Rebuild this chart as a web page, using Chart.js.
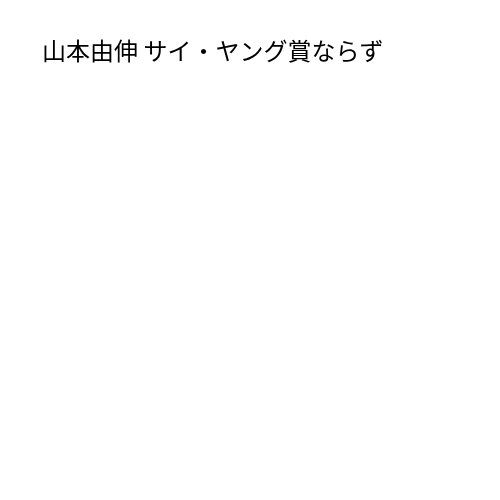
<!DOCTYPE html>
<html>
<head>
<meta charset="utf-8">
<script src="https://cdn.jsdelivr.net/npm/chart.js@4"></script>
<style>
html,body{margin:0;padding:0;background:#fff;}
#wrap{width:500px;height:500px;}
</style>
</head>
<body>
<div id="wrap"><canvas id="c" width="500" height="500"></canvas></div>
<script>
const titleText = "山本由伸 サイ・ヤング賞ならず";
const categories = [];
const values = [];

new Chart(document.getElementById('c'), {
  type: 'bar',
  data: {
    labels: categories,
    datasets: [{ data: values, backgroundColor: '#4472c4' }]
  },
  options: {
    responsive: false,
    animation: false,
    layout: { padding: { top: 36, left: 42, right: 20, bottom: 20 } },
    plugins: {
      legend: { display: false },
      tooltip: { enabled: false },
      title: {
        display: true,
        text: titleText,
        align: 'start',
        color: '#000',
        font: { family: '"Noto Sans CJK JP", sans-serif', size: 24, weight: 'normal' },
        padding: { top: 0, bottom: 10 }
      }
    },
    scales: {
      x: { display: false },
      y: { display: false }
    }
  }
});
</script>
</body>
</html>
